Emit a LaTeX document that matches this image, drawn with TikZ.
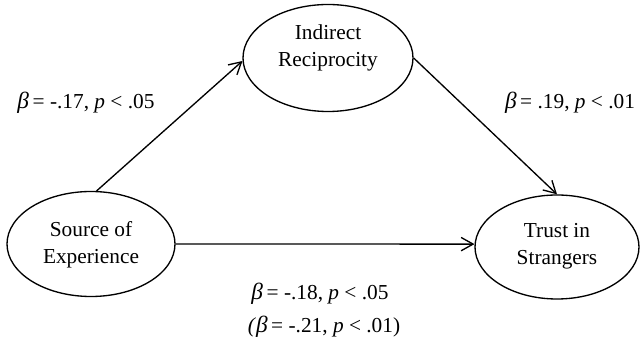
\documentclass[tikz,border=0pt]{standalone}
\usepackage{fontspec}
\setmainfont{Liberation Serif}
\usetikzlibrary{shapes.geometric,arrows.meta}
\tikzset{
  var/.style={draw, ellipse, line width=1pt, inner sep=0pt},
  txt/.style={align=center, font=\fontsize{16}{20.5}\selectfont, inner sep=0pt},
  lbl/.style={font=\fontsize{16}{20.5}\selectfont, inner sep=0pt},
  path/.style={draw, line width=1pt, -{Straight Barb[length=9pt,width=10pt,line width=1pt]}}
}
\newcommand{\bb}{{\fontsize{17.5}{20}\selectfont\textit{β}}}
\newcommand{\pp}{\textit{p}}
\begin{document}
\begin{tikzpicture}[x=0.75pt,y=-0.75pt]
\useasboundingbox (0,0) rectangle (640,348);
\node[var, minimum width=170*0.75pt, minimum height=107*0.75pt] (ir) at (328,58) {};
\node[txt] (irt) at (328,48) {Indirect\\Reciprocity};
\node[var, minimum width=168*0.75pt, minimum height=105*0.75pt] (se) at (91,244) {};
\node[txt] (set) at (91,245) {Source of\\Experience};
\node[var, minimum width=164*0.75pt, minimum height=104*0.75pt] (ts) at (557,247) {};
\node[txt] (tst) at (557,246) {Trust in\\Strangers};
\draw[path] (se.84) -- (ir.182);
\draw[path] (ir.east) -- (ts.north);
\draw[path] (se.east) -- (ts.178);
\node[lbl] (l1) at (86,103) {\bb\,= -.17, \pp{} < .05};
\node[lbl] (l2) at (570,103) {\bb\,= .19, \pp{} < .01};
\node[lbl] (l3) at (320,294) {\bb\,= -.18, \pp{} < .05};
\node[lbl] (l4) at (324,327) {\textit{(}\bb\,= -.21, \pp{} < .01)};
\end{tikzpicture}
\end{document}
